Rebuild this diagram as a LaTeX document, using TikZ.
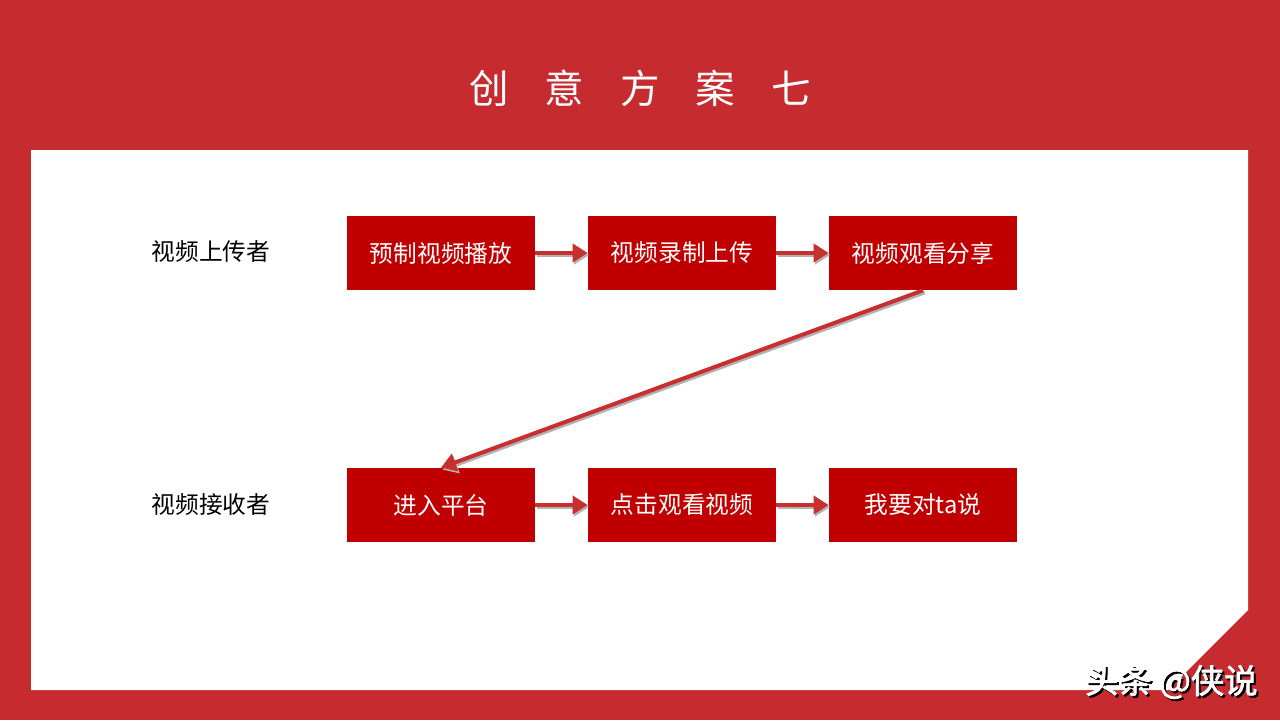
\documentclass[tikz,border=0pt]{standalone}
\usepackage{fontspec}
\newfontfamily\cjk{Noto Sans CJK SC}
\newfontfamily\cjkb{Noto Sans CJK SC}[BoldFont=*,FakeBold=2]
\usetikzlibrary{arrows.meta,positioning}
\definecolor{bgred}{RGB}{198,43,47}
\definecolor{boxred}{RGB}{192,0,0}
\definecolor{arrred}{RGB}{200,48,48}
\tikzset{
  stepbox/.style={fill=boxred,draw=none,minimum width=3.76cm,minimum height=1.48cm,inner sep=0pt,
    text=white,font=\cjk\fontsize{13.5}{16}\selectfont},
  rolelabel/.style={font=\cjk\fontsize{13.5}{16}\selectfont,text=black,inner sep=0pt},
  flow/.style={draw=arrred,line width=0.08cm,-{Triangle[length=0.3cm,width=0.36cm]}},
  flowshadow/.style={draw=black!30,line width=0.08cm,-{Triangle[length=0.3cm,width=0.36cm]}},
}
\begin{document}
\begin{tikzpicture}[x=0.02cm,y=-0.02cm]
\useasboundingbox (0,0) rectangle (1280,720);
\fill[bgred] (0,0) rectangle (1280,720);
\fill[white] (31,150) -- (1248,150) -- (1248,610) -- (1168,690) -- (31,690) -- cycle;
\node[text=white,font=\cjk\fontsize{22.5}{26}\selectfont,inner sep=0pt] (title) at (640,88)
  {创\hspace{0.72cm}意\hspace{0.72cm}方\hspace{0.72cm}案\hspace{0.72cm}七};

\node[rolelabel] (up) at (211,252) {视频上传者};
\node[rolelabel] (down) at (211,505) {视频接收者};

\node[stepbox] (b1) at (441,253) {预制视频播放};
\node[stepbox] (b2) at (682,253) {视频录制上传};
\node[stepbox] (b3) at (923,253) {视频观看分享};
\node[stepbox] (b4) at (441,505) {进入平台};
\node[stepbox] (b5) at (682,505) {点击观看视频};
\node[stepbox] (b6) at (923,505) {我要对ta说};

\draw[flowshadow] ([shift={(1.5,2)}]b1.east) -- ([shift={(1.5,2)}]b2.west);
\draw[flowshadow] ([shift={(1.5,2)}]b2.east) -- ([shift={(1.5,2)}]b3.west);
\draw[flowshadow] ([shift={(1.5,2)}]b4.east) -- ([shift={(1.5,2)}]b5.west);
\draw[flowshadow] ([shift={(1.5,2)}]b5.east) -- ([shift={(1.5,2)}]b6.west);
\draw[flowshadow] ([shift={(1.5,2)}]b3.south) -- ([shift={(1.5,2)}]b4.north);

\draw[flow] (b1.east) -- (b2.west);
\draw[flow] (b2.east) -- (b3.west);
\draw[flow] (b4.east) -- (b5.west);
\draw[flow] (b5.east) -- (b6.west);
\draw[flow] (b3.south) -- (b4.north);

\node[text=black,font=\cjkb\bfseries\fontsize{19}{22}\selectfont,inner sep=0pt,anchor=east] (wmshadow) at (1260,684) {头条 @侠说};
\node[text=white,font=\cjkb\bfseries\fontsize{19}{22}\selectfont,inner sep=0pt,anchor=east] (wm) at (1258,682) {头条 @侠说};
\end{tikzpicture}
\end{document}
